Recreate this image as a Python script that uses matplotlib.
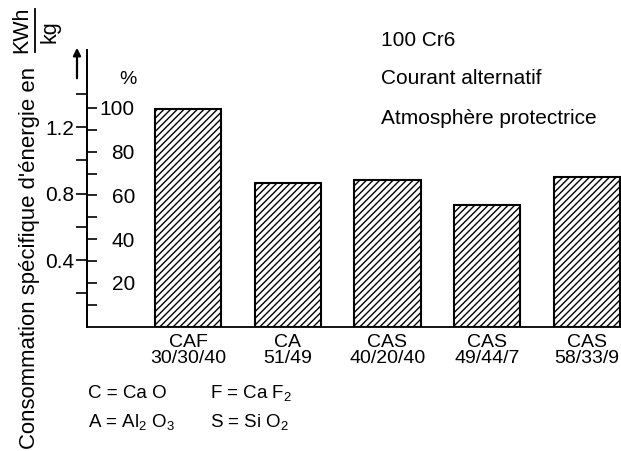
import numpy as np
import matplotlib
matplotlib.use("Agg")
import matplotlib.pyplot as plt
from matplotlib.lines import Line2D

plt.rcParams['font.family'] = ['Liberation Sans', 'DejaVu Sans']
plt.rcParams['mathtext.default'] = 'regular'
plt.rcParams['hatch.linewidth'] = 1.0
plt.rcParams['hatch.color'] = 'black'

# data
slags = ['CAF', 'CA', 'CAS', 'CAS', 'CAS']
compositions = ['30/30/40', '51/49', '40/20/40', '49/44/7', '58/33/9']
energy_pct = [99.5, 65.7, 67.1, 55.7, 68.5]   # relative to CAF slag, %
pct_per_kwh = 76.0                              # 100 % ~ 1.32 kWh/kg
pct_ticks = [20, 40, 60, 80, 100]
pct_minor = [10, 30, 50, 70, 90]
kwh_ticks = [0.2, 0.4, 0.6, 0.8, 1.0, 1.2, 1.4]
kwh_labels = ['', '0.4', '', '0.8', '', '1.2', '']
notes = ['100 Cr6', 'Courant alternatif', 'Atmosphère protectrice']
legend_left = ['C = Ca O', 'A = Al$_2$ O$_3$']
legend_right = ['F = Ca F$_2$', 'S = Si O$_2$']

W, H = 621, 451
def fx(px):
    return px / W
def fy(py):
    return 1 - py / H

fig = plt.figure(figsize=(W / 100, H / 100), dpi=100)
ax = fig.add_axes([fx(87), fy(326.75), fx(621) - fx(87), (326.75 - 50) / H])

x = np.arange(len(slags))
ax.bar(x, energy_pct, width=0.665, color='white', edgecolor='black',
       linewidth=1.5, hatch='/////')

ax.set_xlim(-1.0125, 4.341)
ax.set_ylim(0, 126.5)
for s in ['top', 'right']:
    ax.spines[s].set_visible(False)
for s in ['left', 'bottom']:
    ax.spines[s].set_linewidth(1.3)

ax.set_xticks(x, [f'{a}\n{b}' for a, b in zip(slags, compositions)],
              fontsize=14, linespacing=0.92)
ax.tick_params(axis='x', length=0, pad=5)

ax.set_yticks(pct_ticks)
ax.set_yticks(pct_minor, minor=True)
ax.tick_params(axis='y', which='both', direction='in', length=7, width=1.2)
ax.tick_params(axis='y', which='major', pad=-34.5, labelsize=15)
ax.text(fx(128), fy(79), '%', transform=fig.transFigure, ha='center',
        va='center', fontsize=14)

sec = ax.secondary_yaxis('left', functions=(lambda p: p / pct_per_kwh,
                                            lambda k: k * pct_per_kwh))
sec.set_yticks(kwh_ticks, kwh_labels)
sec.tick_params(axis='y', direction='out', length=8, width=1.2, pad=1,
                labelsize=15)
sec.spines['left'].set_linewidth(1.3)

# arrow up along the axis
ax.annotate('', xy=(fx(77), fy(45)), xytext=(fx(77), fy(81)),
            xycoords='figure fraction', textcoords='figure fraction',
            arrowprops=dict(arrowstyle='-|>', lw=1.6, color='black',
                            mutation_scale=11))

# axis title, rotated, with the KWh / kg fraction
fig.text(fx(30), fy(449), "Consommation spécifique d'énergie en",
         rotation=90, ha='center', va='bottom', fontsize=15.9)
fig.text(fx(22), fy(30), 'KWh', rotation=90, ha='center', va='center',
         fontsize=15.5)
fig.text(fx(50), fy(32), 'kg', rotation=90, ha='center', va='center',
         fontsize=15.5)
fig.add_artist(Line2D([fx(34.5), fx(34.5)], [fy(9), fy(52)], color='black',
                      lw=1.3, transform=fig.transFigure))

for i, t in enumerate(notes):
    fig.text(fx(381), fy(40 + 39 * i), t, ha='left', va='center', fontsize=15)

for i, (a, b) in enumerate(zip(legend_left, legend_right)):
    fig.text(fx(88), fy(393 + 29 * i), a, ha='left', va='center', fontsize=13.5)
    fig.text(fx(210), fy(393 + 29 * i), b, ha='left', va='center', fontsize=13.5)

fig.savefig('out.png', dpi=100)
